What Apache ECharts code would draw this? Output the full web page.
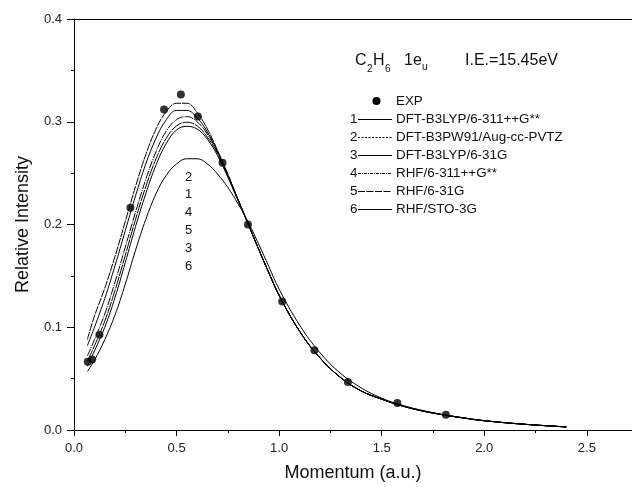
<!DOCTYPE html>
<html>
<head>
<meta charset="utf-8">
<script src="https://cdn.jsdelivr.net/npm/echarts@6/dist/echarts.min.js"></script>
<style>html,body{margin:0;padding:0;background:#fff;}#c{width:632px;height:487px;}</style>
</head>
<body>
<div id="c"></div>
<script>
// ---- data ----
const momentumGrid = [0.065, 0.1, 0.15, 0.2, 0.25, 0.3, 0.35, 0.4, 0.45, 0.5, 0.55, 0.6, 0.65, 0.7, 0.75, 0.8, 0.85, 0.9, 0.95, 1.0, 1.1, 1.2, 1.3, 1.4, 1.5, 1.6, 1.7, 1.8, 1.9, 2.0, 2.2, 2.4];
const curve1 = [0.082, 0.100, 0.128, 0.160, 0.194, 0.228, 0.259, 0.284, 0.302, 0.311, 0.311, 0.304, 0.290, 0.271, 0.248, 0.224, 0.200, 0.176, 0.153, 0.131, 0.096, 0.070, 0.051, 0.038, 0.030, 0.0235, 0.0185, 0.0148, 0.0117, 0.0090, 0.0055, 0.0030];
const curve2 = [0.088, 0.111, 0.138, 0.169, 0.203, 0.237, 0.268, 0.293, 0.310, 0.318, 0.318, 0.309, 0.293, 0.272, 0.249, 0.224, 0.200, 0.176, 0.153, 0.131, 0.096, 0.070, 0.051, 0.038, 0.030, 0.0237, 0.0187, 0.0149, 0.0118, 0.0091, 0.0055, 0.0030];
const curve3 = [0.062, 0.077, 0.100, 0.129, 0.163, 0.198, 0.230, 0.258, 0.279, 0.292, 0.2955, 0.293, 0.283, 0.267, 0.246, 0.223, 0.200, 0.176, 0.153, 0.131, 0.096, 0.070, 0.051, 0.038, 0.030, 0.0233, 0.0184, 0.0147, 0.0116, 0.0090, 0.0055, 0.0030];
const curve4 = [0.072, 0.088, 0.113, 0.144, 0.178, 0.212, 0.244, 0.271, 0.291, 0.302, 0.305, 0.300, 0.288, 0.270, 0.248, 0.224, 0.200, 0.176, 0.153, 0.131, 0.096, 0.070, 0.051, 0.038, 0.030, 0.0235, 0.0185, 0.0148, 0.0117, 0.0090, 0.0055, 0.0030];
const curve5 = [0.067, 0.082, 0.106, 0.136, 0.170, 0.205, 0.237, 0.264, 0.284, 0.296, 0.2995, 0.296, 0.285, 0.269, 0.247, 0.224, 0.200, 0.176, 0.153, 0.131, 0.096, 0.070, 0.051, 0.038, 0.030, 0.0234, 0.0184, 0.0147, 0.0116, 0.0090, 0.0055, 0.0030];
const curve6 = [0.057, 0.068, 0.088, 0.112, 0.142, 0.175, 0.205, 0.230, 0.248, 0.259, 0.264, 0.264, 0.259, 0.249, 0.236, 0.220, 0.202, 0.181, 0.159, 0.137, 0.102, 0.075, 0.055, 0.041, 0.031, 0.024, 0.019, 0.015, 0.0118, 0.0091, 0.0056, 0.0031];
const expMomentum = [0.067, 0.088, 0.124, 0.275, 0.439, 0.521, 0.604, 0.724, 0.848, 1.015, 1.172, 1.335, 1.576, 1.813];
const expIntensity = [0.0665, 0.0687, 0.0927, 0.2164, 0.312, 0.3265, 0.305, 0.260, 0.200, 0.125, 0.0775, 0.0466, 0.0262, 0.0149];
const curveNumbers = ['1', '2', '3', '4', '5', '6'];
const curveNames = ['DFT-B3LYP/6-311++G**', 'DFT-B3PW91/Aug-cc-PVTZ', 'DFT-B3LYP/6-31G', 'RHF/6-311++G**', 'RHF/6-31G', 'RHF/STO-3G'];
const peakLabelOrder = ['2', '1', '4', '5', '3', '6'];
const xTickInterval = 0.5;
const yTickInterval = 0.1;

const curves = [curve1, curve2, curve3, curve4, curve5, curve6];
const legendDashes = [null, [2, 1.5], null, [3, 1, 1, 1], [7, 1.5], null];
const curveDashes = ['solid', [8, 1], 'solid', [8, 1, 1, 1], [12, 1], 'solid'];
const FONT = 'Liberation Sans, Arial, sans-serif';

const chart = echarts.init(document.getElementById('c'), null, {renderer: 'canvas'});

const series = curves.map((c, k) => ({
  name: curveNames[k],
  type: 'line',
  data: momentumGrid.map((x, i) => [x, c[i]]),
  showSymbol: false,
  smooth: 0.4,
  lineStyle: {color: '#000', width: 1, type: curveDashes[k]},
  silent: true,
  z: 2
}));
series.push({
  name: 'EXP',
  type: 'scatter',
  data: expMomentum.map((x, i) => [x, expIntensity[i]]),
  symbol: 'circle',
  symbolSize: 8,
  itemStyle: {color: '#000'},
  z: 3
});

const graphic = [];
// title
const title = [
  {t: 'C', x: 355, y: 53, s: 16},
  {t: '2', x: 367, y: 64, s: 10},
  {t: 'H', x: 373, y: 53, s: 16},
  {t: '6', x: 385, y: 64, s: 10},
  {t: '1e', x: 404, y: 53, s: 16},
  {t: 'u', x: 422, y: 62, s: 10},
  {t: 'I.E.=15.45eV', x: 465, y: 53, s: 16}
];
title.forEach(o => graphic.push({type: 'text', left: o.x, top: o.y,
  style: {text: o.t, fontSize: o.s, fontFamily: FONT, fill: '#111'}}));
// legend
const rowY0 = 101, rowStep = 18;
graphic.push({type: 'circle', shape: {cx: 376.5, cy: rowY0, r: 4}, style: {fill: '#000'}});
graphic.push({type: 'text', x: 396, y: rowY0, style: {text: 'EXP', fontSize: 13.4, fontFamily: FONT, fill: '#111', verticalAlign: 'middle'}});
curveNames.forEach((n, k) => {
  const y = rowY0 + rowStep * (k + 1);
  graphic.push({type: 'text', x: 350, y: y, style: {text: curveNumbers[k], fontSize: 13.4, fontFamily: FONT, fill: '#111', verticalAlign: 'middle'}});
  graphic.push({type: 'line', shape: {x1: 358, y1: y + 0.5, x2: 392, y2: y + 0.5},
    style: {stroke: '#000', lineWidth: 1, lineDash: legendDashes[k]}});
  graphic.push({type: 'text', x: 396, y: y, style: {text: n, fontSize: 13.4, fontFamily: FONT, fill: '#111', verticalAlign: 'middle'}});
});
// peak labels
peakLabelOrder.forEach((t, k) => {
  graphic.push({type: 'text', x: 188.5, y: 177 + 17.8 * k,
    style: {text: t, fontSize: 13, fontFamily: FONT, fill: '#111', align: 'center', verticalAlign: 'middle'}});
});

chart.setOption({
  animation: false,
  backgroundColor: '#fff',
  grid: {left: 74, top: 19, right: 0, bottom: 56, containLabel: false},
  xAxis: [{
    type: 'value', min: 0, max: 2.72, interval: xTickInterval,
    name: 'Momentum (a.u.)', nameLocation: 'middle', nameGap: 34,
    nameTextStyle: {fontSize: 18, fontFamily: FONT, color: '#111'},
    axisLine: {show: true, onZero: false, lineStyle: {color: '#000', width: 1}},
    axisTick: {show: true, inside: false, length: 6, lineStyle: {color: '#000'}},
    minorTick: {show: true, splitNumber: 2, length: 3, lineStyle: {color: '#000'}},
    axisLabel: {margin: 12, fontSize: 13, fontFamily: FONT, color: '#222', showMaxLabel: false,
      formatter: v => v.toFixed(1)},
    splitLine: {show: false}
  }, {
    type: 'value', position: 'top', min: 0, max: 2.72,
    axisLine: {show: true, onZero: false, lineStyle: {color: '#000', width: 1}},
    axisTick: {show: false}, axisLabel: {show: false}, splitLine: {show: false}
  }],
  yAxis: {
    type: 'value', min: 0, max: 0.4, interval: yTickInterval,
    name: 'Relative Intensity', nameLocation: 'middle', nameGap: 42,
    nameTextStyle: {fontSize: 18, fontFamily: FONT, color: '#111'},
    axisLine: {show: true, onZero: false, lineStyle: {color: '#000', width: 1}},
    axisTick: {show: true, inside: false, length: 7, lineStyle: {color: '#000'}},
    minorTick: {show: true, splitNumber: 2, length: 3, lineStyle: {color: '#000'}},
    axisLabel: {margin: 12, fontSize: 13, fontFamily: FONT, color: '#222',
      formatter: v => v.toFixed(1)},
    splitLine: {show: false}
  },
  graphic: graphic,
  series: series
});
</script>
</body>
</html>
